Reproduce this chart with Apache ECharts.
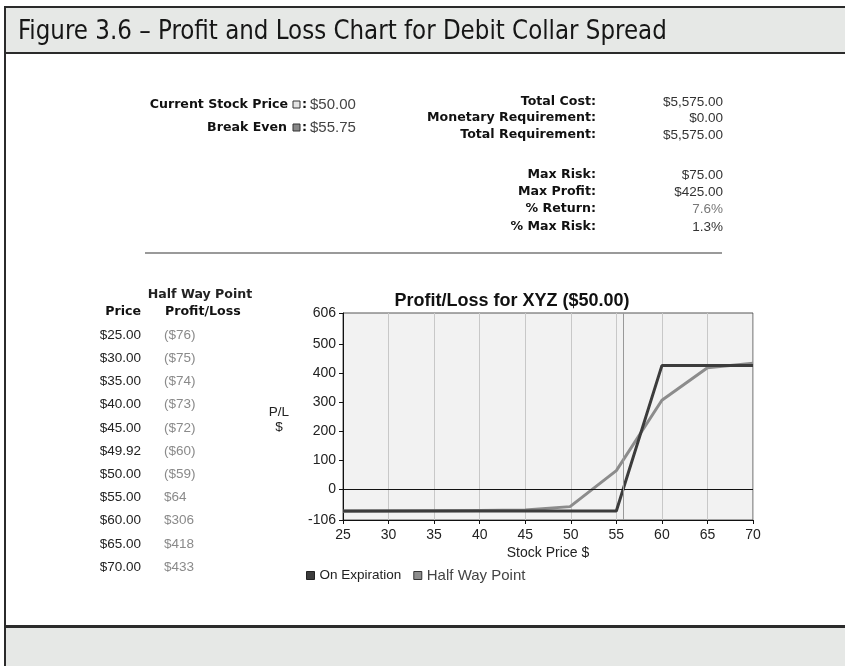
<!DOCTYPE html>
<html>
<head>
<meta charset="utf-8">
<script src="https://cdn.jsdelivr.net/npm/echarts@6/dist/echarts.min.js"></script>
<style>
  html, body { margin: 0; padding: 0; background: #fff; }
  #main { width: 845px; height: 666px; }
</style>
</head>
<body>
<div id="main"></div>
<script>
  // table / chart data
  const prices = [25, 30, 35, 40, 45, 49.92, 50, 55, 60, 65, 70];
  const halfWayPL = [-76, -75, -74, -73, -72, -60, -59, 64, 306, 418, 433];
  const expirationX = [25, 55, 60, 70];
  const expirationPL = [-75, -75, 425, 425];
  const yTicks = [-106, 0, 100, 200, 300, 400, 500, 606];
  const currentPrice = 50;
  const breakEven = 55.75;

  const summaryLabels = ['Total Cost:', 'Monetary Requirement:', 'Total Requirement:', 'Max Risk:', 'Max Profit:', '% Return:', '% Max Risk:'];
  const summaryValues = ['$5,575.00', '$0.00', '$5,575.00', '$75.00', '$425.00', '7.6%', '1.3%'];
  const summaryRowsY = [102, 118, 135, 175, 192, 209, 227];

  function money(v) {
    const s = '$' + Math.abs(v);
    return v < 0 ? '(' + s + ')' : s;
  }

  let chart = echarts.init(document.getElementById('main'));

  const labelFont = 'bold 12.6px "DejaVu Sans"';
  const valueFont = '13.5px "Liberation Sans"';
  const priceFont = '15px "Liberation Sans"';

  const graphics = [
    // header band
    { type: 'rect', shape: { x: 4, y: 6, width: 845, height: 48 }, style: { fill: '#e6e8e6', stroke: null }, z: 0 },
    { type: 'rect', shape: { x: 4, y: 6, width: 845, height: 2 }, style: { fill: '#2b2b2b' } },
    { type: 'rect', shape: { x: 4, y: 52, width: 845, height: 2 }, style: { fill: '#2b2b2b' } },
    // bottom band
    { type: 'rect', shape: { x: 4, y: 628, width: 845, height: 40 }, style: { fill: '#e6e8e6' } },
    { type: 'rect', shape: { x: 4, y: 625, width: 845, height: 3 }, style: { fill: '#2b2b2b' } },
    // left frame
    { type: 'rect', shape: { x: 4, y: 6, width: 2, height: 662 }, style: { fill: '#2b2b2b' } },
    {
      type: 'text', x: 18, y: 32, scaleX: 0.947,
      style: { text: 'Figure 3.6 – Profit and Loss Chart for Debit Collar Spread', font: '27px "DejaVu Sans Condensed"', fill: '#161616', verticalAlign: 'middle' }
    },
    // current price / break even
    { type: 'text', x: 288, y: 105, style: { text: 'Current Stock Price', font: labelFont, fill: '#111', align: 'right', verticalAlign: 'middle' } },
    { type: 'rect', shape: { x: 293, y: 101, width: 7, height: 7 }, style: { fill: '#e4e4e4', stroke: '#333', lineWidth: 1 } },
    { type: 'text', x: 302, y: 105, style: { text: ':', font: labelFont, fill: '#111', verticalAlign: 'middle' } },
    { type: 'text', x: 310, y: 105, style: { text: '$' + currentPrice.toFixed(2), font: priceFont, fill: '#444', verticalAlign: 'middle' } },
    { type: 'text', x: 287, y: 128, style: { text: 'Break Even', font: labelFont, fill: '#111', align: 'right', verticalAlign: 'middle' } },
    { type: 'rect', shape: { x: 293, y: 124, width: 7, height: 7 }, style: { fill: '#888', stroke: '#333', lineWidth: 1 } },
    { type: 'text', x: 302, y: 128, style: { text: ':', font: labelFont, fill: '#111', verticalAlign: 'middle' } },
    { type: 'text', x: 310, y: 128, style: { text: '$' + breakEven.toFixed(2), font: priceFont, fill: '#444', verticalAlign: 'middle' } },
    // separator
    { type: 'rect', shape: { x: 145, y: 252, width: 577, height: 2 }, style: { fill: '#9a9a9a' } },
    // left table headers
    { type: 'text', x: 200, y: 295, style: { text: 'Half Way Point', font: labelFont, fill: '#222', align: 'center', verticalAlign: 'middle' } },
    { type: 'text', x: 141, y: 312, style: { text: 'Price', font: labelFont, fill: '#111', align: 'right', verticalAlign: 'middle' } },
    { type: 'text', x: 165, y: 312, style: { text: 'Profit/Loss', font: labelFont, fill: '#111', verticalAlign: 'middle' } },
    // y axis name
    { type: 'text', x: 279, y: 420, style: { text: 'P/L\n$', font: '13.5px "Liberation Sans"', fill: '#222', align: 'center', verticalAlign: 'middle', lineHeight: 15 } }
  ];

  summaryLabels.forEach(function (lab, i) {
    graphics.push({ type: 'text', x: 596, y: summaryRowsY[i], style: { text: lab, font: labelFont, fill: '#111', align: 'right', verticalAlign: 'middle' } });
    graphics.push({ type: 'text', x: 723, y: summaryRowsY[i], style: { text: summaryValues[i], font: valueFont, fill: i === 5 ? '#777' : '#333', align: 'right', verticalAlign: 'middle' } });
  });

  prices.forEach(function (p, i) {
    const y = 335 + i * 23.2;
    graphics.push({ type: 'text', x: 141, y: y, style: { text: '$' + p.toFixed(2), font: valueFont, fill: '#222', align: 'right', verticalAlign: 'middle' } });
    graphics.push({ type: 'text', x: 164, y: y, style: { text: money(halfWayPL[i]), font: valueFont, fill: '#8a8a8a', verticalAlign: 'middle' } });
  });

  const option = {
    animation: false,
    backgroundColor: '#fff',
    title: {
      text: 'Profit/Loss for XYZ ($' + currentPrice.toFixed(2) + ')',
      left: 507,
      top: 287,
      textAlign: 'center',
      textStyle: { fontFamily: 'Liberation Sans', fontWeight: 'bold', fontSize: 18, color: '#111' }
    },
    legend: {
      left: 301,
      top: 563,
      icon: 'rect',
      itemWidth: 8,
      itemHeight: 8,
      itemGap: 12,
      textStyle: { fontFamily: 'Liberation Sans', fontSize: 13.5, color: '#222' },
      data: [
        { name: 'On Expiration', itemStyle: { color: '#3c3c3c', borderColor: '#222', borderWidth: 1 } },
        { name: 'Half Way Point', itemStyle: { color: '#8c8c8c', borderColor: '#333', borderWidth: 1 }, textStyle: { fontSize: 15, color: '#444' } }
      ]
    },
    grid: {
      left: 343, right: 92, top: 313, bottom: 146,
      show: true,
      backgroundColor: '#f2f2f2',
      borderColor: '#555',
      borderWidth: 1
    },
    xAxis: {
      type: 'value',
      min: 25, max: 70, interval: 5,
      name: 'Stock Price $',
      nameLocation: 'middle',
      nameGap: 26,
      nameTextStyle: { fontFamily: 'Liberation Sans', fontSize: 14, color: '#222' },
      axisLine: { onZero: false, lineStyle: { color: '#111', width: 1 } },
      axisTick: { length: 4, lineStyle: { color: '#111' } },
      axisLabel: { fontFamily: 'Liberation Sans', fontSize: 14, color: '#222', margin: 8 },
      splitLine: { show: true, lineStyle: { color: '#c8c8c8', width: 1 } }
    },
    yAxis: {
      type: 'value',
      min: -106, max: 606,
      axisLine: { show: true, onZero: false, lineStyle: { color: '#111', width: 1 } },
      axisTick: { show: true, length: 4, customValues: yTicks, lineStyle: { color: '#111' } },
      axisLabel: { fontFamily: 'Liberation Sans', fontSize: 14, color: '#222', margin: 7, customValues: yTicks },
      splitLine: { show: false }
    },
    series: [
      {
        name: 'On Expiration',
        type: 'line',
        data: expirationX.map(function (x, i) { return [x, expirationPL[i]]; }),
        symbol: 'none',
        lineStyle: { color: '#3c3c3c', width: 3 },
        itemStyle: { color: '#3c3c3c' },
        z: 3,
        markLine: {
          silent: true,
          symbol: 'none',
          label: { show: false },
          data: [
            { yAxis: 0, lineStyle: { color: '#111', width: 1, type: 'solid' } },
            { xAxis: breakEven, lineStyle: { color: '#999', width: 1, type: 'solid' } }
          ]
        }
      },
      {
        name: 'Half Way Point',
        type: 'line',
        data: prices.map(function (x, i) { return [x, halfWayPL[i]]; }),
        symbol: 'none',
        lineStyle: { color: '#8c8c8c', width: 3 },
        itemStyle: { color: '#8c8c8c' },
        z: 2
      }
    ],
    graphic: graphics
  };

  chart.setOption(option);

  window.addEventListener('resize', function () {
    chart.resize();
  });
</script>
</body>
</html>
